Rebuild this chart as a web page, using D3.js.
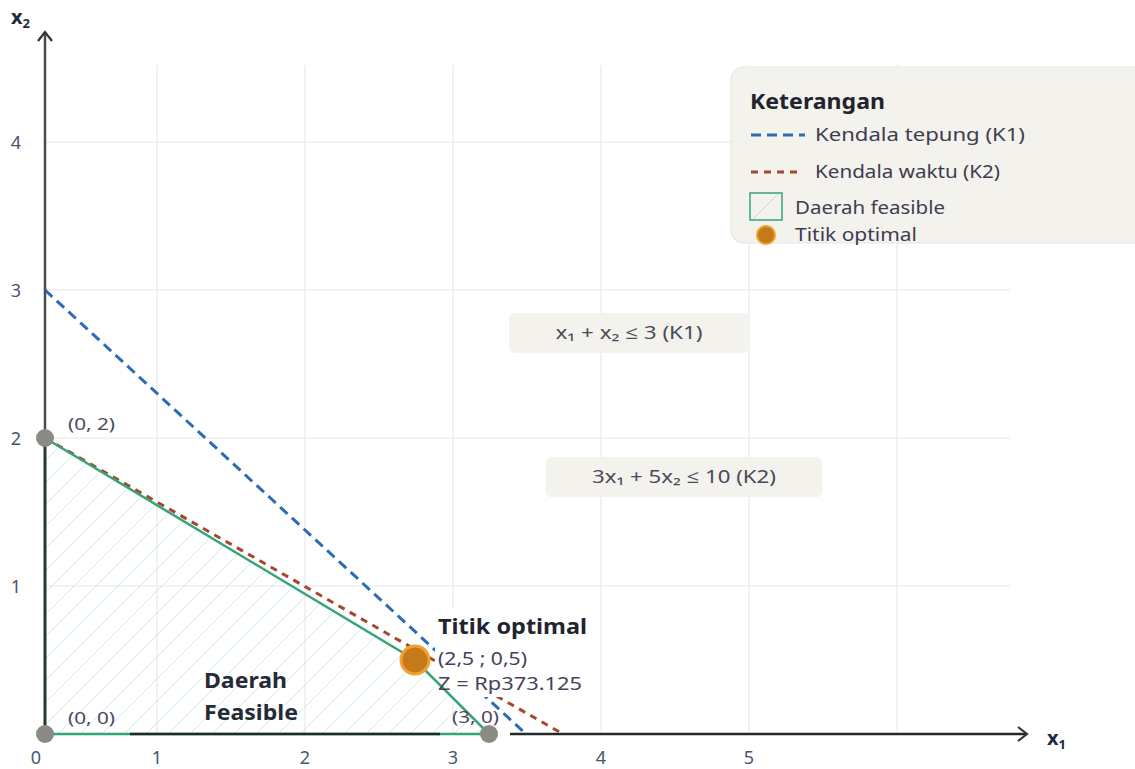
<!DOCTYPE html>
<html><head><meta charset="utf-8">
<script src="https://cdn.jsdelivr.net/npm/d3@7"></script>
<style>
html,body{margin:0;padding:0;background:#fff;}
svg{display:block;font-family:"Noto Sans","Open Sans",sans-serif;}
</style></head>
<body>
<svg id="chart" width="1135" height="769"></svg>
<script>
// ---- data ----
const xTickValues = [0, 1, 2, 3, 4, 5];
const xTickLabels = ["0", "1", "2", "3", "4", "5"];
const yTickValues = [1, 2, 3, 4];
const yTickLabels = ["1", "2", "3", "4"];
const gridXValues = [1, 2, 3, 4, 5, 6];
const gridYValues = [1, 2, 3, 4];
const feasibleVertices = [[0, 0], [0, 2], [2.5, 0.5], [3, 0]];
const k1Line = [[0, 3], [3.25, 0]];
const k2Line = [[0, 2], [3.5, 0]];
const optimalPoint = [2.5, 0.5];
const cornerPoints = [[0, 2], [0, 0], [3, 0]];
const cornerLabels = ["(0, 2)", "(0, 0)", "(3, 0)"];
const optimalTexts = ["Titik optimal", "(2,5 ; 0,5)", "Z = Rp373.125"];
const constraintLabels = ["x₁ + x₂ ≤ 3 (K1)", "3x₁ + 5x₂ ≤ 10 (K2)"];
const legendTitle = "Keterangan";
const legendItems = ["Kendala tepung (K1)", "Kendala waktu (K2)", "Daerah feasible", "Titik optimal"];
const regionLabel = ["Daerah", "Feasible"];

// ---- scales ----
const x = d3.scaleLinear().domain([0, 1]).range([45, 193]);      // data marks
const xGrid = d3.scaleLinear().domain([0, 1]).range([9, 157]);   // grid & tick labels
const y = d3.scaleLinear().domain([0, 1]).range([734, 586]);

const C = {
  grid: "#eeeeee", green: "#35a47a", hatch: "#4cc394", blue: "#2c6cb4", red: "#a4472c",
  orange: "#c47a18", orangeRing: "#f2a232", dot: "#8b8b86",
  tick: "#47566f", text: "#3f3c52", dark: "#1f2430", box: "#f3f2ec"
};

const svg = d3.select("#chart");
function fit(sel, len) { return sel.attr("textLength", len).attr("lengthAdjust", "spacingAndGlyphs"); }

const defs = svg.append("defs");
const pat = defs.append("pattern").attr("id", "hatch").attr("patternUnits", "userSpaceOnUse")
  .attr("width", 22).attr("height", 22);
pat.append("path").attr("d", "M-2,2 L2,-2 M0,22 L22,0 M20,24 L24,20")
  .attr("stroke", C.hatch).attr("stroke-opacity", 0.28).attr("stroke-width", 1);
const pat2 = defs.append("pattern").attr("id", "hatchL").attr("patternUnits", "userSpaceOnUse")
  .attr("width", 30).attr("height", 30).attr("x", 751).attr("y", 191);
pat2.append("path").attr("d", "M0,30 L30,0").attr("stroke", C.hatch).attr("stroke-opacity", 0.35).attr("stroke-width", 1);

// grid
svg.append("g").selectAll("line").data(gridXValues).join("line")
  .attr("x1", d => xGrid(d)).attr("x2", d => xGrid(d))
  .attr("y1", 65).attr("y2", y(0))
  .attr("stroke", C.grid).attr("stroke-width", 1.5);
svg.append("g").selectAll("line").data(gridYValues).join("line")
  .attr("x1", x(0)).attr("x2", 1010)
  .attr("y1", d => y(d)).attr("y2", d => y(d))
  .attr("stroke", C.grid).attr("stroke-width", 1.5);

// feasible region
const line = d3.line().x(d => x(d[0])).y(d => y(d[1]));
svg.append("path").attr("d", line(feasibleVertices) + "Z")
  .attr("fill", "url(#hatch)").attr("stroke", "none");

// constraint lines
svg.append("path").attr("d", line(k1Line)).attr("fill", "none")
  .attr("stroke", C.blue).attr("stroke-width", 3).attr("stroke-dasharray", "10,6");
svg.append("path").attr("d", line(k2Line)).attr("fill", "none")
  .attr("stroke", C.red).attr("stroke-width", 3).attr("stroke-dasharray", "7,6");

// white box behind optimal label
const ox = x(optimalPoint[0]), oy = y(optimalPoint[1]);
svg.append("rect").attr("x", ox + 20).attr("y", oy - 52).attr("width", 157).attr("height", 89).attr("fill", "#fff");

// green feasible boundary
svg.append("path").attr("d", line([feasibleVertices[1], feasibleVertices[2], feasibleVertices[3], feasibleVertices[0]]))
  .attr("fill", "none").attr("stroke", C.green).attr("stroke-width", 2.5);

// axes
const axisG = svg.append("g");
axisG.append("line").attr("x1", x(0)).attr("x2", x(0)).attr("y1", 32).attr("y2", y(2))
  .attr("stroke", "#4b4b4b").attr("stroke-width", 2.5);
axisG.append("line").attr("x1", x(0)).attr("x2", x(0)).attr("y1", y(2)).attr("y2", y(0))
  .attr("stroke", "#213c32").attr("stroke-width", 3);
axisG.append("path").attr("d", `M${x(0) - 7},${41} L${x(0)},${32} L${x(0) + 7},${41}`)
  .attr("fill", "none").attr("stroke", "#333").attr("stroke-width", 2.2);
[[130, 440], [510, 1026]].forEach(s => {
  axisG.append("line").attr("x1", s[0]).attr("x2", s[1]).attr("y1", y(0)).attr("y2", y(0))
    .attr("stroke", "#222a27").attr("stroke-width", 2.5);
});
axisG.append("path").attr("d", `M1018,${y(0) - 7} L1027,${y(0)} L1018,${y(0) + 7}`)
  .attr("fill", "none").attr("stroke", "#333").attr("stroke-width", 2.2);

// axis labels
const ax2 = svg.append("text").attr("x", 11).attr("y", 24).attr("font-weight", "bold")
  .attr("font-size", 20).attr("fill", "#1e2a44");
ax2.append("tspan").text("x");
ax2.append("tspan").attr("font-size", 13).attr("dy", 4).text("2");
const ax1 = svg.append("text").attr("x", 1047).attr("y", 745).attr("font-weight", "bold")
  .attr("font-size", 20).attr("fill", "#1e2a44");
ax1.append("tspan").text("x");
ax1.append("tspan").attr("font-size", 13).attr("dy", 4).text("1");

// tick labels
svg.append("g").selectAll("text").data(xTickValues).join("text")
  .attr("x", d => d === 0 ? x(0) - 9 : xGrid(d))
  .attr("y", 764).attr("text-anchor", "middle").attr("font-size", 18)
  .attr("fill", C.tick).text((d, i) => xTickLabels[i]);
svg.append("g").selectAll("text").data(yTickValues).join("text")
  .attr("x", 16).attr("y", d => y(d) + 7).attr("text-anchor", "middle").attr("font-size", 18)
  .attr("fill", C.tick).text((d, i) => yTickLabels[i]);

// corner dots
svg.append("g").selectAll("circle").data(cornerPoints).join("circle")
  .attr("cx", d => x(d[0])).attr("cy", d => y(d[1])).attr("r", 9).attr("fill", C.dot);
const cornerOffsets = [[23, -8], [23, -10], [-37, -11]];
svg.append("g").selectAll("text").data(cornerPoints).join("text")
  .attr("x", (d, i) => x(d[0]) + cornerOffsets[i][0])
  .attr("y", (d, i) => y(d[1]) + cornerOffsets[i][1])
  .attr("font-size", 17).attr("fill", "#4a4860")
  .attr("textLength", 47).attr("lengthAdjust", "spacingAndGlyphs")
  .text((d, i) => cornerLabels[i]);

// optimal point
svg.append("circle").attr("cx", ox).attr("cy", oy).attr("r", 14)
  .attr("fill", C.orange).attr("stroke", C.orangeRing).attr("stroke-width", 3);
fit(svg.append("text").attr("x", ox + 23).attr("y", oy - 26).attr("font-size", 21)
  .attr("font-weight", "bold").attr("fill", C.dark).text(optimalTexts[0]), 149);
fit(svg.append("text").attr("x", ox + 23).attr("y", oy + 5).attr("font-size", 18)
  .attr("fill", "#444258").text(optimalTexts[1]), 89);
fit(svg.append("text").attr("x", ox + 23).attr("y", oy + 30).attr("font-size", 18)
  .attr("fill", "#444258").text(optimalTexts[2]), 144);

// Daerah Feasible
const rl = [{y: 688, w: 83}, {y: 720, w: 94}];
regionLabel.forEach((t, i) => {
  fit(svg.append("text").attr("x", 204).attr("y", rl[i].y).attr("font-size", 22).attr("font-weight", "bold")
    .attr("fill", "#262a36").text(t), rl[i].w);
});

// constraint label boxes
const cBoxes = [{cx: 629, cy: 333, w: 240, tw: 147}, {cx: 684, cy: 477, w: 277, tw: 184}];
cBoxes.forEach((b, i) => {
  svg.append("rect").attr("x", b.cx - b.w / 2).attr("y", b.cy - 20).attr("width", b.w).attr("height", 40)
    .attr("rx", 6).attr("fill", C.box);
  fit(svg.append("text").attr("x", b.cx).attr("y", b.cy + 6).attr("text-anchor", "middle")
    .attr("font-size", 18).attr("fill", "#4b4a5a").text(constraintLabels[i]), b.tw);
});

// legend
const lg = svg.append("g");
lg.append("rect").attr("x", 731).attr("y", 67).attr("width", 420).attr("height", 176).attr("rx", 13)
  .attr("fill", C.box).attr("stroke", "#e7e5df").attr("stroke-width", 1.2);
fit(lg.append("text").attr("x", 750).attr("y", 109).attr("font-size", 21).attr("font-weight", "bold")
  .attr("fill", C.dark).text(legendTitle), 135);
lg.append("line").attr("x1", 751).attr("x2", 805).attr("y1", 135).attr("y2", 135)
  .attr("stroke", C.blue).attr("stroke-width", 3).attr("stroke-dasharray", "10,6");
lg.append("line").attr("x1", 751).attr("x2", 799).attr("y1", 172).attr("y2", 172)
  .attr("stroke", C.red).attr("stroke-width", 3).attr("stroke-dasharray", "7,6");
lg.append("rect").attr("x", 750).attr("y", 193).attr("width", 32).attr("height", 27)
  .attr("fill", "url(#hatchL)").attr("stroke", C.green).attr("stroke-width", 1.5);
lg.append("circle").attr("cx", 766).attr("cy", 235).attr("r", 9)
  .attr("fill", C.orange).attr("stroke", C.orangeRing).attr("stroke-width", 2);
const lgPos = [[815, 141], [815, 178], [795, 214], [795, 241]];
const lgW = [210, 185, 150, 122];
lg.selectAll("text.item").data(legendItems).join("text").attr("class", "item")
  .attr("x", (d, i) => lgPos[i][0]).attr("y", (d, i) => lgPos[i][1])
  .attr("font-size", 18).attr("fill", C.text)
  .attr("textLength", (d, i) => lgW[i]).attr("lengthAdjust", "spacingAndGlyphs")
  .text(d => d);
</script>
</body></html>
